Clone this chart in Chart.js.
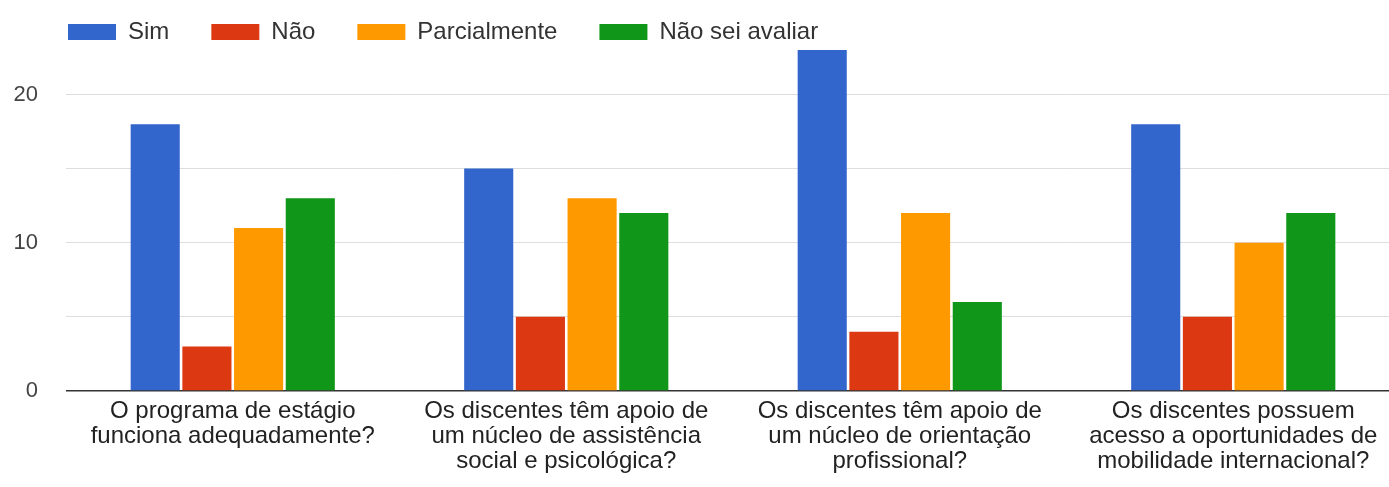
<!DOCTYPE html>
<html>
<head>
<meta charset="utf-8">
<script src="https://cdn.jsdelivr.net/npm/chart.js@4.4.1/dist/chart.umd.min.js"></script>
<style>
  html, body { margin: 0; padding: 0; background: #fff; overflow: hidden; }
  #wrap { width: 1400px; height: 487px; }
</style>
</head>
<body>
<div id="wrap"><canvas id="bar-chart"></canvas></div>
<script>
const categories = [
  ["O programa de estágio", "funciona adequadamente?"],
  ["Os discentes têm apoio de", "um núcleo de assistência", "social e psicológica?"],
  ["Os discentes têm apoio de", "um núcleo de orientação", "profissional?"],
  ["Os discentes possuem", "acesso a oportunidades de", "mobilidade internacional?"]
];
const sim = [18, 15, 23, 18];
const nao = [3, 5, 4, 5];
const parcialmente = [11, 13, 12, 10];
const naoSeiAvaliar = [13, 12, 6, 12];
const yTicks = [0, 5, 10, 15, 20];

const font = "'Liberation Sans', Arial, sans-serif";

// nudge the legend right so it lines up with the plot like the original
const legendShift = {
  id: "legendShift",
  afterLayout(chart) {
    chart.legend.left += 18;
    chart.legend.right += 18;
  }
};

const chart = new Chart(document.getElementById("bar-chart"), {
  type: "bar",
  data: {
    labels: categories,
    datasets: [
      { label: "Sim", data: sim, backgroundColor: "#3366cc" },
      { label: "Não", data: nao, backgroundColor: "#dc3912" },
      { label: "Parcialmente", data: parcialmente, backgroundColor: "#ff9900" },
      { label: "Não sei avaliar", data: naoSeiAvaliar, backgroundColor: "#109618" }
    ]
  },
  plugins: [legendShift],
  options: {
    responsive: true,
    maintainAspectRatio: false,
    animation: false,
    layout: {
      padding: { top: -22, left: 8, right: 0, bottom: 13 }
    },
    datasets: {
      bar: {
        categoryPercentage: 0.62,
        barPercentage: 0.95
      }
    },
    scales: {
      x: {
        grid: { display: false, drawTicks: false },
        border: { display: false },
        afterFit: scale => { scale.height = 83; },
        ticks: {
          padding: 8,
          color: "#222",
          maxRotation: 0,
          autoSkip: false,
          font: { family: font, size: 24, lineHeight: 1.042 }
        }
      },
      y: {
        min: 0,
        max: 23,
        afterBuildTicks: function(scale) {
          scale.ticks = yTicks.map(v => ({ value: v }));
        },
        afterFit: scale => { scale.width = 58; },
        grid: {
          drawTicks: false,
          color: ctx => ctx.tick && ctx.tick.value === 0 ? "#333" : "#dedede",
          lineWidth: ctx => ctx.tick && ctx.tick.value === 0 ? 1.5 : 1
        },
        border: { display: false },
        ticks: {
          padding: 28,
          color: "#444",
          font: { family: font, size: 22 },
          callback: v => (v % 10 === 0 ? v : "")
        }
      }
    },
    plugins: {
      title: { display: false },
      tooltip: { enabled: false },
      legend: {
        display: true,
        position: "top",
        align: "start",
        maxHeight: 72,
        labels: {
          boxWidth: 48,
          boxHeight: 16,
          padding: 42,
          color: "#333",
          font: { family: font, size: 24 }
        }
      }
    }
  }
});
</script>
</body>
</html>
